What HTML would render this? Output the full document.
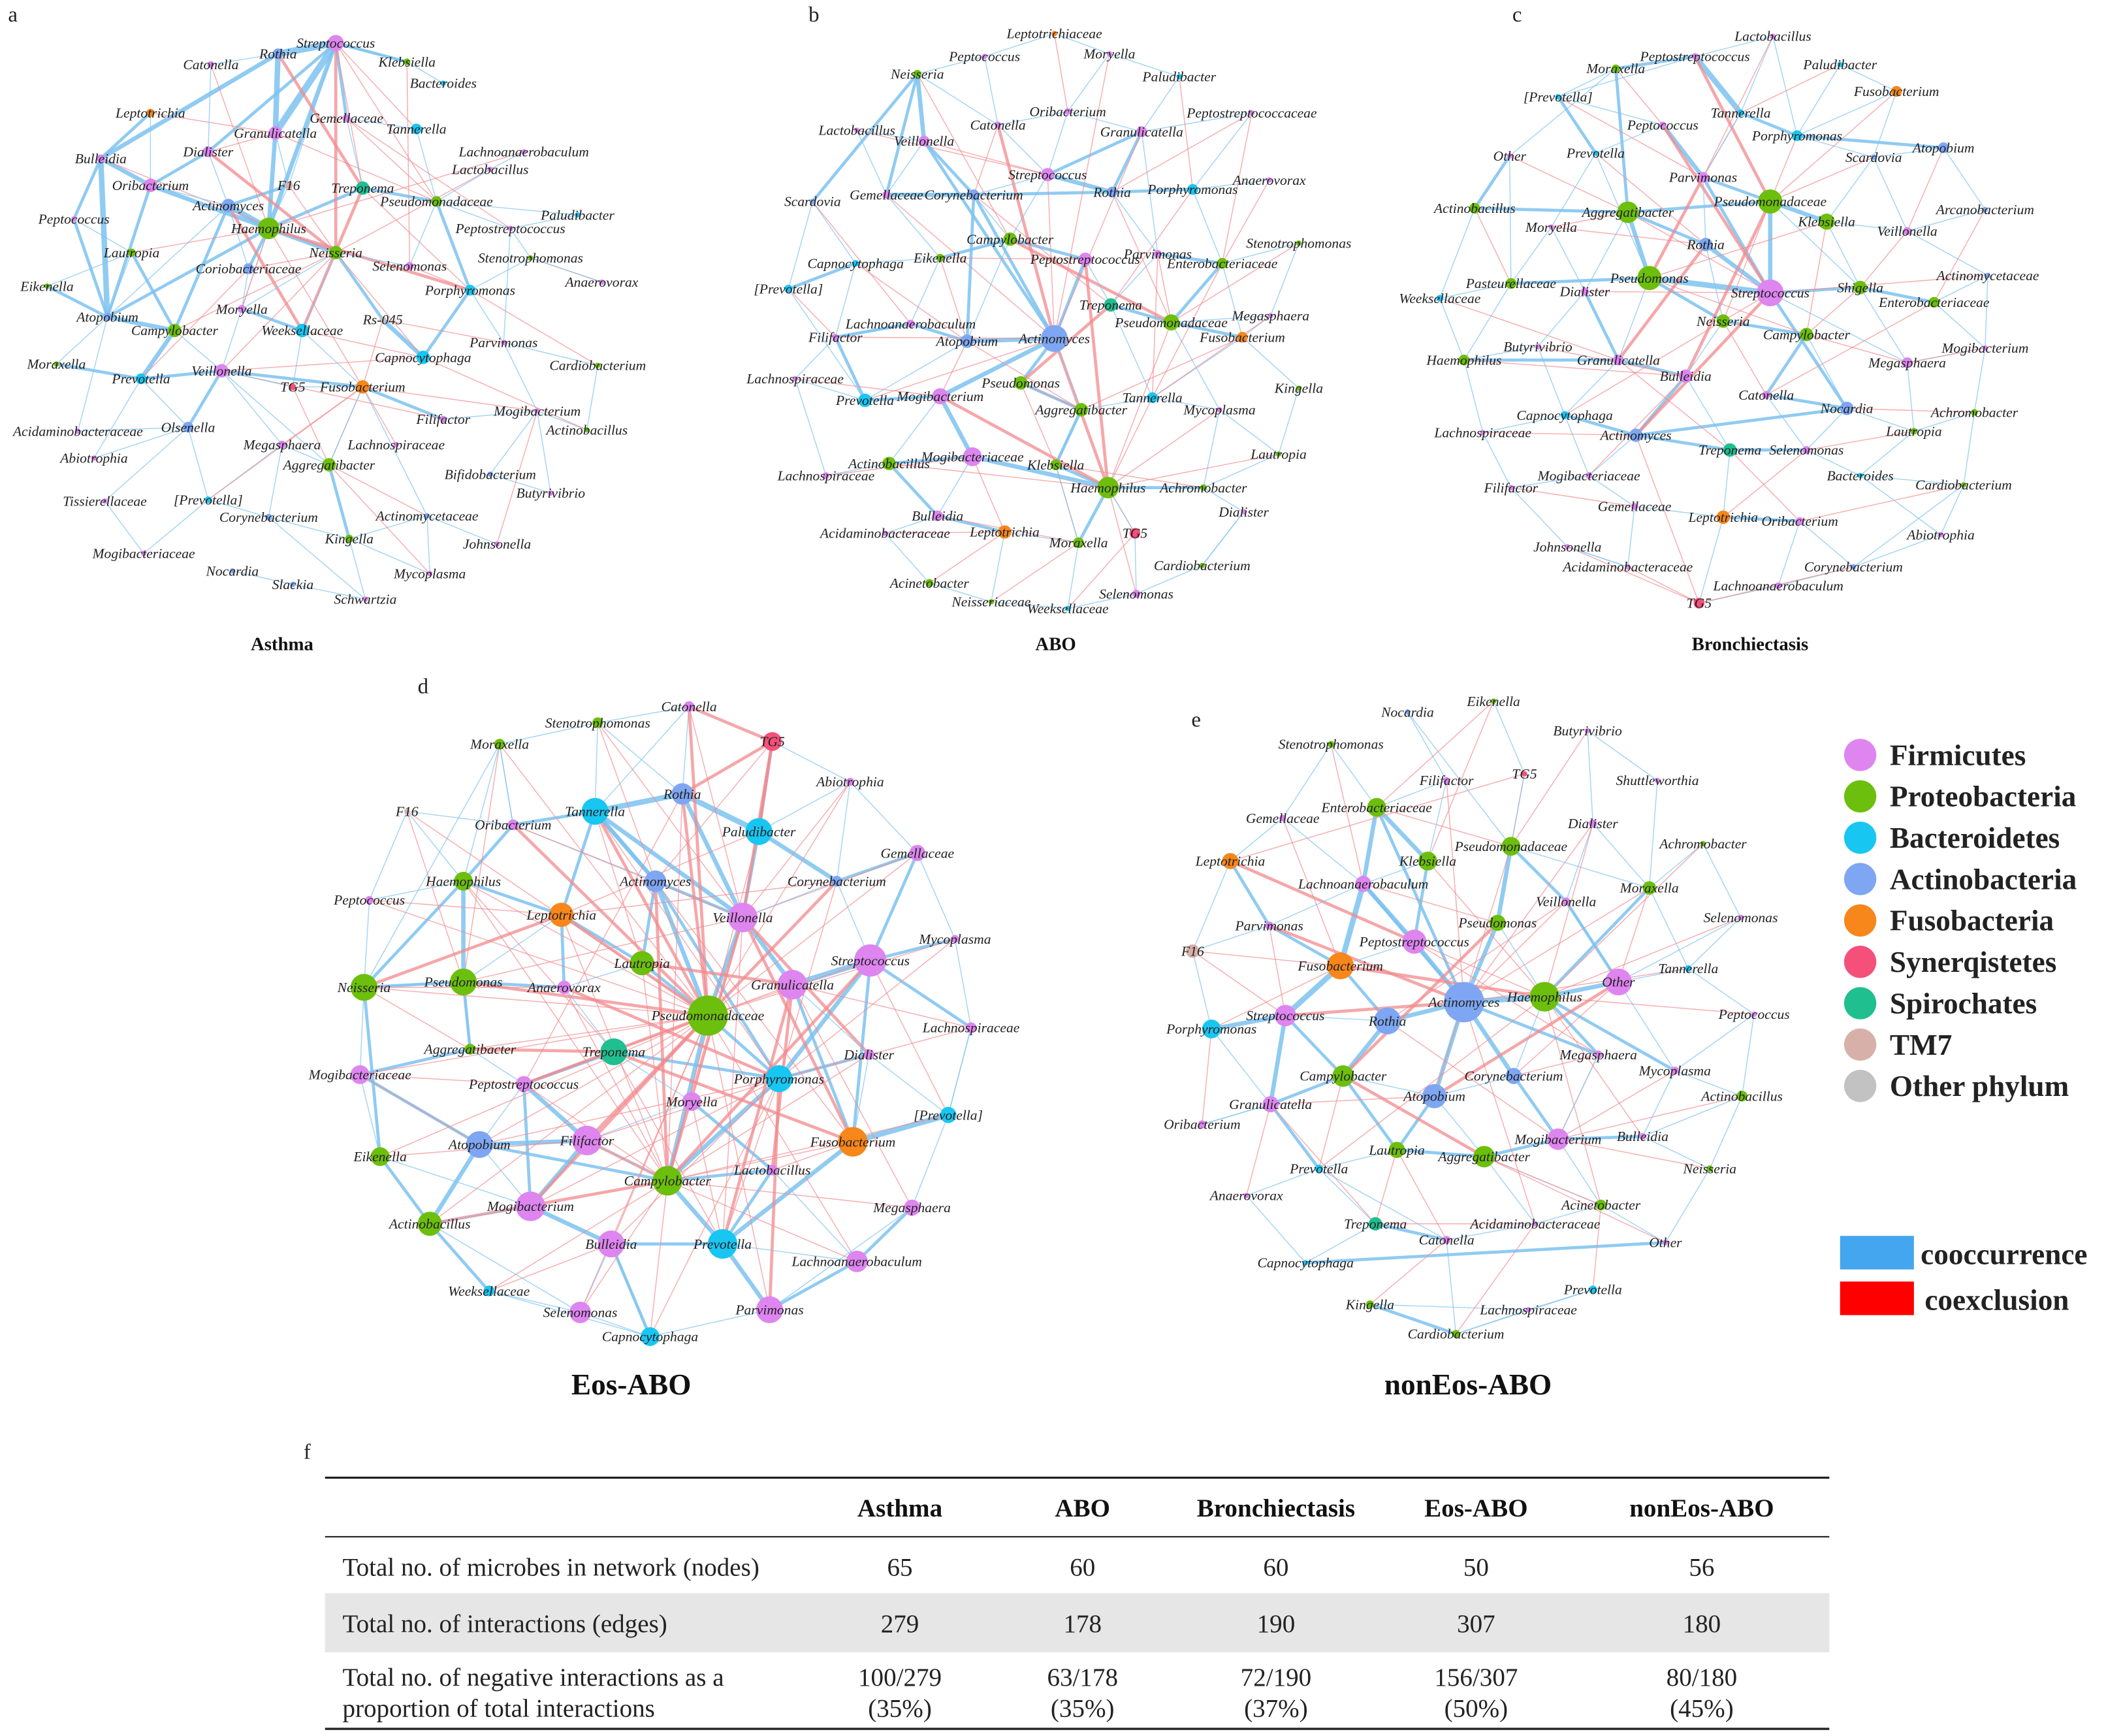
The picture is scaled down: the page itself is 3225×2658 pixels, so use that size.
<!DOCTYPE html>
<html><head><meta charset="utf-8"><title>Microbial co-occurrence networks</title>
<style>
html,body{margin:0;padding:0;background:#fff;}
svg{display:block;}
.lbl{font-family:"Liberation Serif",serif;font-style:italic;font-size:10.5px;fill:#222;}
.ttl{font-family:"Liberation Serif",serif;font-weight:bold;fill:#111;}
.tb{font-family:"Liberation Serif",serif;font-size:19px;fill:#222;}
.tbh{font-family:"Liberation Serif",serif;font-size:19px;font-weight:bold;fill:#111;}
.leg{font-family:"Liberation Serif",serif;font-size:22px;font-weight:bold;fill:#222;}
.pl{font-family:"Liberation Serif",serif;font-size:16px;fill:#222;}
</style></head>
<body>
<svg id="fig" width="3225" height="2658" viewBox="0 0 1568 1292.3" xmlns="http://www.w3.org/2000/svg">
<g id="edges"></g>
<g id="nodes"></g>
<g>
<text class="pl" x="6" y="16">a</text>
<text class="pl" x="602" y="16">b</text>
<text class="pl" x="1126" y="16">c</text>
<text class="pl" x="311" y="516">d</text>
<text class="pl" x="887" y="541">e</text>
<text class="pl" x="226" y="1086">f</text>
</g>
<g>
<text class="ttl" x="210" y="484" font-size="14" text-anchor="middle">Asthma</text>
<text class="ttl" x="786" y="484" font-size="14" text-anchor="middle">ABO</text>
<text class="ttl" x="1303" y="484" font-size="14" text-anchor="middle">Bronchiectasis</text>
<text class="ttl" x="470" y="1038" font-size="22" text-anchor="middle">Eos-ABO</text>
<text class="ttl" x="1093" y="1038" font-size="22" text-anchor="middle">nonEos-ABO</text>
</g>
<g id="legend"></g>
<g>
<rect x="1370" y="920" width="55" height="25" fill="#44a6ee"/>
<text class="leg" x="1430" y="941">cooccurrence</text>
<rect x="1370" y="954" width="55" height="25" fill="#ff0000"/>
<text class="leg" x="1433" y="975">coexclusion</text>
</g>
<g>
<line x1="242" y1="1100" x2="1362" y2="1100" stroke="#222" stroke-width="1.6"/>
<line x1="242" y1="1144" x2="1362" y2="1144" stroke="#222" stroke-width="1"/>
<rect x="242" y="1186" width="1120" height="44" fill="#e6e6e6"/>
<line x1="242" y1="1287" x2="1362" y2="1287" stroke="#222" stroke-width="1.6"/>
<text class="tbh" x="670" y="1129" text-anchor="middle">Asthma</text>
<text class="tbh" x="806" y="1129" text-anchor="middle">ABO</text>
<text class="tbh" x="950" y="1129" text-anchor="middle">Bronchiectasis</text>
<text class="tbh" x="1099" y="1129" text-anchor="middle">Eos-ABO</text>
<text class="tbh" x="1267" y="1129" text-anchor="middle">nonEos-ABO</text>
<text class="tb" x="255" y="1173">Total no. of microbes in network (nodes)</text>
<text class="tb" x="670" y="1173" text-anchor="middle">65</text>
<text class="tb" x="806" y="1173" text-anchor="middle">60</text>
<text class="tb" x="950" y="1173" text-anchor="middle">60</text>
<text class="tb" x="1099" y="1173" text-anchor="middle">50</text>
<text class="tb" x="1267" y="1173" text-anchor="middle">56</text>
<text class="tb" x="255" y="1215">Total no. of interactions (edges)</text>
<text class="tb" x="670" y="1215" text-anchor="middle">279</text>
<text class="tb" x="806" y="1215" text-anchor="middle">178</text>
<text class="tb" x="950" y="1215" text-anchor="middle">190</text>
<text class="tb" x="1099" y="1215" text-anchor="middle">307</text>
<text class="tb" x="1267" y="1215" text-anchor="middle">180</text>
<text class="tb" x="255" y="1255">Total no. of negative interactions as a</text>
<text class="tb" x="255" y="1278">proportion of total interactions</text>
<text class="tb" x="670" y="1255" text-anchor="middle">100/279</text><text class="tb" x="670" y="1278" text-anchor="middle">(35%)</text>
<text class="tb" x="806" y="1255" text-anchor="middle">63/178</text><text class="tb" x="806" y="1278" text-anchor="middle">(35%)</text>
<text class="tb" x="950" y="1255" text-anchor="middle">72/190</text><text class="tb" x="950" y="1278" text-anchor="middle">(37%)</text>
<text class="tb" x="1099" y="1255" text-anchor="middle">156/307</text><text class="tb" x="1099" y="1278" text-anchor="middle">(50%)</text>
<text class="tb" x="1267" y="1255" text-anchor="middle">80/180</text><text class="tb" x="1267" y="1278" text-anchor="middle">(45%)</text>
</g>
</svg>
<script>
const phylumNames = ["Firmicutes","Proteobacteria","Bacteroidetes","Actinobacteria","Fusobacteria","Synerqistetes","Spirochates","TM7","Other phylum"];
const phylumColors = ["#de85f0","#6cbf0c","#18c6f2","#7ea6f2","#f7861b","#f55079","#1fbf90","#d8b0aa","#c2c2c2"];
const firm = "Streptococcus Catonella Gemellaceae Granulicatella Dialister Lachnoanaerobaculum Lactobacillus Bulleidia Oribacterium Peptostreptococcus Peptococcus Selenomonas Moryella Anaerovorax Parvimonas Veillonella Filifactor Mogibacterium Acidaminobacteraceae Lachnospiraceae Megasphaera Abiotrophia Butyrivibrio Tissierellaceae Johnsonella Mogibacteriaceae Mycoplasma Schwartzia Peptostreptococcaceae Shuttleworthia Other".split(" ");
const prot = "Klebsiella Haemophilus Neisseria Stenotrophomonas Lautropia Eikenella Campylobacter Moraxella Cardiobacterium Actinobacillus Aggregatibacter Kingella Pseudomonadaceae Enterobacteriaceae Pseudomonas Achromobacter Acinetobacter Neisseriaceae Pasteurellaceae Shigella".split(" ");
const bact = "Bacteroides Tannerella Paludibacter Porphyromonas Weeksellaceae Capnocytophaga Prevotella [Prevotella]".split(" ");
const actn = "Rothia Actinomyces Coriobacteriaceae Atopobium Olsenella Bifidobacterium Corynebacterium Actinomycetaceae Nocardia Slackia Arcanobacterium Scardovia".split(" ");
const fuso = "Leptotrichia Fusobacterium Leptotrichiaceae".split(" ");

const nodesA = "Streptococcus 250 32 6;Rothia 207 40 4;Catonella 157 48 2.5;Klebsiella 303 46 2.5;Bacteroides 330 62 2;Leptotrichia 112 84 3;Gemellaceae 258 88 3;Granulicatella 205 99 5;Tannerella 310 96 4;Dialister 155 113 4;Lachnoanaerobaculum 390 113 2;Lactobacillus 365 126 2;Bulleidia 75 118 3;Oribacterium 112 138 5;F16 215 138 3;Treponema 270 140 5;Pseudomonadaceae 325 150 4;Actinomyces 170 153 5;Paludibacter 430 160 2;Peptostreptococcus 380 170 2;Peptococcus 55 163 2;Haemophilus 200 170 8;Neisseria 250 188 5;Selenomonas 305 198 3;Stenotrophomonas 395 192 2;Lautropia 98 188 3;Coriobacteriaceae 185 200 4;Porphyromonas 350 216 4;Eikenella 35 213 2;Atopobium 80 236 3;Moryella 180 230 3;Anaerovorax 448 210 2;Campylobacter 130 246 5;Weeksellaceae 225 246 5;Rs-045 285 238 2.5;Capnocytophaga 315 266 5;Parvimonas 375 255 2;Moraxella 42 271 2;Prevotella 105 282 4;Veillonella 165 276 5;TG5 218 288 2.5;Fusobacterium 270 288 5;Cardiobacterium 445 272 2;Filifactor 330 312 2.5;Mogibacterium 400 306 2;Actinobacillus 437 320 2;Acidaminobacteraceae 58 321 2;Olsenella 140 318 4;Lachnospiraceae 295 331 2;Megasphaera 210 331 3;Aggregatibacter 245 346 5;Abiotrophia 70 341 2;Bifidobacterium 365 353 2;Butyrivibrio 410 367 2;Tissierellaceae 78 373 2;[Prevotella] 155 372 2.5;Corynebacterium 200 385 2.5;Actinomycetaceae 318 384 2;Kingella 260 401 3;Johnsonella 370 405 2;Mogibacteriaceae 107 412 2;Nocardia 173 425 2;Mycoplasma 320 427 2;Slackia 218 435 2;Schwartzia 272 446 2";
const nodesB = "Leptotrichiaceae 785 25 2;Peptococcus 733 42 2;Moryella 826 40 2;Neisseria 683 55 3;Paludibacter 878 57 2;Lactobacillus 638 97 2;Veillonella 688 105 4;Catonella 743 93 2.5;Oribacterium 795 83 2.5;Granulicatella 850 98 4;Peptostreptococcaceae 932 84 2;Streptococcus 780 130 5;Anaerovorax 945 134 2;Scardovia 605 150 2;Gemellaceae 660 145 3;Corynebacterium 725 145 4;Rothia 828 143 4;Porphyromonas 888 141 4;Campylobacter 752 178 5;Capnocytophaga 637 196 2.5;Eikenella 700 192 3;Peptostreptococcus 808 193 5;Parvimonas 862 189 3;Enterobacteriaceae 910 196 4;Stenotrophomonas 967 181 2;[Prevotella] 587 215 3;Treponema 827 227 5;Lachnoanaerobaculum 678 241 3;Actinomyces 785 252 10;Pseudomonadaceae 872 240 6;Megasphaera 946 235 2;Filifactor 622 251 2.5;Atopobium 720 254 5;Fusobacterium 925 251 4;Lachnospiraceae 592 282 2;Pseudomonas 760 285 5;Tannerella 858 296 4;Kingella 967 289 2;Prevotella 644 298 5;Mogibacterium 700 295 6;Aggregatibacter 805 305 5;Mycoplasma 908 305 2;Mogibacteriaceae 724 340 7;Lautropia 952 338 2;Actinobacillus 662 345 5;Klebsiella 786 346 4;Lachnospiraceae 615 354 2.5;Haemophilus 825 363 8;Achromobacter 896 363 2.5;Bulleidia 698 384 4;Dialister 926 381 2;Acidaminobacteraceae 659 397 2;Leptotrichia 748 396 5;Moraxella 803 404 4;TG5 845 397 4;Cardiobacterium 895 421 2;Acinetobacter 692 434 3;Neisseriaceae 738 448 2;Weeksellaceae 795 453 2;Selenomonas 846 442 3";
const nodesC = "Lactobacillus 1320 27 2;Peptostreptococcus 1262 42 2.5;Moraxella 1203 51 3;Paludibacter 1370 48 2;Fusobacterium 1412 68 4;[Prevotella] 1160 72 2;Tannerella 1296 84 2.5;Peptococcus 1238 93 2.5;Porphyromonas 1338 101 4;Atopobium 1447 110 4;Other 1124 116 2;Prevotella 1188 114 2;Scardovia 1395 117 2;Parvimonas 1268 132 4;Pseudomonadaceae 1318 150 9;Arcanobacterium 1478 156 2;Actinobacillus 1098 155 4;Aggregatibacter 1212 158 8;Klebsiella 1360 165 6;Moryella 1155 169 2;Veillonella 1420 172 3;Rothia 1270 182 5;Pseudomonas 1228 207 9;Actinomycetaceae 1480 205 2;Pasteurellaceae 1125 211 4;Dialister 1180 217 3;Streptococcus 1318 218 10;Shigella 1385 214 5;Weeksellaceae 1072 222 2.5;Enterobacteriaceae 1440 225 4;Neisseria 1283 239 5;Campylobacter 1345 249 5;Butyrivibrio 1145 258 2;Mogibacterium 1478 259 2;Haemophilus 1090 268 4;Granulicatella 1205 268 4;Megasphaera 1420 270 4;Bulleidia 1255 280 5;Catonella 1315 294 3;Nocardia 1375 304 5;Achromobacter 1470 307 2.5;Capnocytophaga 1165 309 3;Lautropia 1425 321 2.5;Lachnospiraceae 1104 322 2;Actinomyces 1218 324 5;Treponema 1288 335 5;Selenomonas 1345 335 3;Mogibacteriaceae 1183 354 2.5;Bacteroides 1385 354 2;Filifactor 1125 363 2;Cardiobacterium 1462 361 2;Gemellaceae 1217 377 2.5;Leptotrichia 1283 385 5;Oribacterium 1340 388 3;Johnsonella 1167 407 2;Abiotrophia 1445 398 2;Acidaminobacteraceae 1212 422 2;Corynebacterium 1380 422 2;Lachnoanaerobaculum 1324 436 2.5;TG5 1265 449 4";
const nodesD = "Catonella 513 526 4;Stenotrophomonas 445 538 4;TG5 575 552 7;Moraxella 372 554 4;Abiotrophia 633 582 3;Rothia 508 591 8;F16 303 604 2;Tannerella 443 604 10;Paludibacter 565 619 10;Oribacterium 382 614 4;Gemellaceae 683 635 6;Actinomyces 488 656 8;Corynebacterium 623 656 4;Haemophilus 345 656 7;Peptococcus 275 670 3;Leptotrichia 418 681 9;Veillonella 553 683 11;Mycoplasma 711 699 3;Lautropia 478 717 9;Streptococcus 648 715 12;Neisseria 271 735 10;Pseudomonas 345 731 10;Anaerovorax 420 735 5;Granulicatella 590 733 11;Pseudomonadaceae 527 756 15;Lachnospiraceae 723 765 4;Aggregatibacter 350 781 4;Treponema 457 783 10;Dialister 647 785 4;Mogibacteriaceae 268 800 7;Peptostreptococcus 390 807 6;Porphyromonas 580 803 10;Moryella 515 820 7;[Prevotella] 706 830 6;Filifactor 437 849 11;Fusobacterium 635 850 11;Atopobium 357 852 10;Eikenella 283 861 7;Lactobacillus 575 871 4;Campylobacter 497 879 11;Megasphaera 679 899 6;Mogibacterium 395 898 11;Actinobacillus 320 911 9;Bulleidia 455 926 10;Prevotella 538 926 11;Lachnoanaerobaculum 638 939 8;Weeksellaceae 364 961 4;Selenomonas 432 977 8;Parvimonas 573 975 10;Capnocytophaga 484 995 7";
const nodesE = "Nocardia 1048 530 2;Eikenella 1112 522 2;Butyrivibrio 1182 544 2;Stenotrophomonas 991 554 2.5;Shuttleworthia 1234 581 2;Filifactor 1077 581 2.5;TG5 1135 576 2;Gemellaceae 955 609 2.5;Enterobacteriaceae 1025 601 7;Dialister 1186 613 3;Leptotrichia 916 641 6;Klebsiella 1063 641 7;Achromobacter 1268 628 2;Pseudomonadaceae 1125 630 7;Lachnoanaerobaculum 1015 658 6;Veillonella 1166 671 3;Moraxella 1228 661 5;Parvimonas 945 689 3;Pseudomonas 1115 687 6;Selenomonas 1296 683 2;F16 888 708 5;Peptostreptococcus 1053 701 9;Fusobacterium 998 719 10;Other 1205 731 10;Tannerella 1257 721 2.5;Actinomyces 1090 746 15;Haemophilus 1150 742 11;Streptococcus 957 756 8;Rothia 1033 760 10;Peptococcus 1306 755 2;Porphyromonas 902 766 7;Megasphaera 1190 785 3;Mycoplasma 1247 797 3;Campylobacter 1000 801 8;Corynebacterium 1127 801 6;Granulicatella 946 822 6;Atopobium 1068 816 9;Actinobacillus 1297 816 4;Oribacterium 895 837 3;Mogibacterium 1160 848 8;Bulleidia 1223 846 2.5;Lautropia 1040 856 6;Aggregatibacter 1105 861 8;Neisseria 1273 870 2.5;Prevotella 982 870 3;Anaerovorax 928 890 2;Acinetobacter 1192 897 4;Treponema 1024 911 5;Acidaminobacteraceae 1143 911 2;Catonella 1077 923 3;Other 1240 925 2;Capnocytophaga 972 940 2;Prevotella 1186 960 3;Kingella 1020 971 3;Lachnospiraceae 1138 975 2;Cardiobacterium 1084 993 3";

const edgesA = "0-1c5 0-7c5 1-7c4 12-29c4 12-13c3 13-21c3 17-21c4 7-21c3 21-22c3 0-21c3 1-12c3 29-32c3 32-38c3 38-39c2 22-34c2 34-35c3 35-27c2 27-16c2 15-16c2 5-12c2 9-13c2 20-29c2 28-29c2 37-38c2 39-41c2 41-43c2 43-44c1 44-45c1 50-58c2 49-50c1 56-58c1 58-62c1 57-59c1 52-53c1 55-56c1 46-47c1 54-47c1 60-55c1 61-63c1 63-64c1 64-58c1 51-47c1 30-33c2 33-40c1 26-21c2 25-32c2 24-27c1 19-16c1 18-16c1 10-11c1 8-6c1 3-0c2 4-3c1 42-36c1 14-17c2 47-39c2 21-29c2 13-29c2 17-32c2 0-6c2 21-15c2 0-9c2 12-20c2 39-50c1 47-55c1 0-22x2 1-15x2 7-16x1 21-27x2 22-35x1 9-22x2 5-7x1 17-33x2 32-22x1 39-22x1 15-33x2 0-16x1 6-19x1 11-22x1 36-34x1 23-27x1 44-41x1 43-39x1 50-41x1 21-41x1 31-24x1 26-38x1 2-21x1 3-23x1 10-21x1 12-22x1 35-45x1 27-42x1 0-3c1 0-14c1 1-2c1 2-9c1 5-13c1 7-14c1 9-17c1 13-17c1 14-21c1 17-26c1 21-30c1 22-30c1 22-33c1 26-30c1 30-39c1 32-39c1 33-41c1 39-40c1 40-41c1 41-50c1 49-39c1 47-38c1 29-46c1 38-51c1 55-49c1 56-49c1 58-57c1 57-41c1 52-44c1 44-36c1 36-19c1 19-24c1 16-23c1 23-22c1 8-16c1 6-15c1 11-16c1 18-19c1 24-31c1 27-36c1 42-45c1 53-44c1 62-57c1 64-56c1 60-54c1 17-29c1 25-29c1 20-25c1 28-25c1 37-29c1 7-9x1 14-22x1 30-21x1 33-35x1 41-34x1 39-35x1 49-41x1 57-50x1 26-22x1 25-21x1 15-27x1 8-0x1 6-16x1 0-15x1 48-41x1 40-50x1 55-41x1 59-44x1 62-50x1";
const edgesB = "3-6c3 3-13c2 6-15c2 14-15c3 15-16c2 11-16c3 11-9c2 9-16c2 16-17c2 15-28c2 28-32c3 28-39c3 39-42c3 42-47c3 47-45c2 45-40c2 40-35c2 35-28c2 38-39c2 38-31c2 31-27c2 27-32c2 32-15c2 25-13c1 25-19c2 19-20c1 20-18c2 18-21c2 21-28c2 22-23c2 23-29c2 29-33c2 33-36c1 36-41c1 41-48c1 48-47c2 47-53c2 53-52c1 52-49c2 49-44c2 44-42c2 49-51c1 56-57c1 57-58c1 58-59c1 59-54c1 50-55c1 37-43c1 30-29c1 24-23c1 12-17c1 10-9c1 4-9c1 2-8c1 1-7c1 5-6c1 0-2c1 46-34c1 44-46c1 26-29c2 6-28c2 3-14c2 7-8c1 25-38c1 6-11x1 7-28x2 11-28x1 18-29x2 26-35x2 21-47x2 28-47x2 32-40x1 39-47x2 16-29x1 9-28x1 3-18x1 17-26x1 22-36x1 33-40x1 20-32x1 15-26x1 45-53x1 42-52x1 2-28x1 10-23x1 35-45x1 38-28x1 29-47x1 54-47x1 14-28x1 31-28x1 1-3c1 3-7c1 5-14c1 6-14c1 7-11c1 8-11c1 8-9c1 9-22c1 10-17c1 11-15c1 11-18c1 13-19c1 14-20c1 15-18c1 16-22c1 17-23c1 18-32c1 19-31c1 20-27c1 21-26c1 22-26c1 23-33c1 24-30c1 26-36c1 27-31c1 28-40c1 29-41c1 30-33c1 31-34c1 32-38c1 33-37c1 34-38c1 36-40c1 39-44c1 40-45c1 41-43c1 42-49c1 43-48c1 45-53c1 47-54c1 48-50c1 50-55c1 51-56c1 52-57c1 53-58c1 55-59c1 2-4c1 0-1c1 7-15x1 5-11x1 13-27x1 19-32x1 20-21x1 22-29x1 23-36x1 24-29x1 30-36x1 32-39x1 34-39x1 35-40x1 36-47x1 41-47x1 43-47x1 44-47x1 46-42x1 48-45x1 49-53x1 51-52x1 56-52x1 57-53x1 58-54x1 59-47x1 25-31x1 0-8x1 4-17x1 12-23x1 10-16x1";
const edgesC = "1-2c2 1-6c4 6-8c2 7-13c3 13-14c2 14-18c3 14-26c3 17-22c3 22-26c4 26-27c2 27-29c2 21-26c3 21-17c2 10-16c2 16-17c2 24-22c2 24-28c1 34-35c2 35-37c2 37-44c2 44-39c2 39-38c2 38-31c2 31-30c2 30-22c2 44-41c2 43-41c1 47-49c1 44-45c2 45-46c2 46-39c1 52-53c2 53-57c1 57-58c1 58-59c1 52-59c1 56-54c1 51-52c1 48-50c1 55-50c1 40-42c1 36-33c1 9-15c1 9-12c1 12-20c1 20-18c1 23-29c1 3-4c1 0-6c1 5-11c2 11-22c1 19-25c1 25-35c2 32-34c1 13-26c2 8-9c2 4-8c1 2-17c2 26-39c2 14-17c2 1-14x2 7-26x2 13-22x2 14-37x2 17-26x1 22-31x1 21-35x2 26-44x2 30-38x1 25-26x1 18-22x1 14-30x1 27-31x1 19-21x1 6-13x1 34-37x1 44-59x1 52-46x1 35-45x1 41-26x1 5-13x1 2-7x1 36-31x1 29-38x1 47-37x1 0-1c1 0-8c1 1-5c1 2-5c1 2-10c1 3-8c1 4-12c1 5-7c1 6-13c1 7-11c1 8-12c1 10-24c1 11-19c1 12-18c1 13-21c1 14-27c1 15-20c1 16-28c1 17-25c1 18-27c1 19-24c1 20-23c1 21-30c1 22-35c1 23-33c1 24-34c1 25-32c1 26-36c1 27-36c1 28-34c1 29-33c1 30-37c1 31-39c1 32-41c1 33-40c1 34-43c1 35-41c1 36-42c1 37-45c1 38-46c1 39-42c1 40-50c1 41-47c1 42-48c1 43-49c1 44-47c1 45-52c1 46-48c1 47-51c1 48-55c1 49-54c1 50-57c1 51-56c1 53-58c1 54-56c1 57-55c1 3-6x1 8-14x1 9-20x1 10-17x1 12-14x1 15-29x1 16-24x1 18-31x1 19-17x1 20-27x1 23-26x1 28-35x1 32-37x1 33-36x1 39-40x1 42-46x1 43-44x1 45-53x1 49-51x1 50-53x1 54-59x1 56-59x1 57-59x1 0-13x1 4-14x1 11-21x1";
const edgesD = "5-7c4 5-8c4 7-11c3 8-12c3 11-24c3 7-16c3 5-16c3 16-23c3 23-19c4 19-31c3 31-39c3 39-44c3 44-48c3 44-43c2 43-41c3 41-34c3 34-36c3 36-42c3 36-29c2 29-26c2 26-21c2 21-13c3 13-9c2 9-7c2 13-20c2 20-37c2 37-42c2 42-46c2 46-49c1 49-43c2 47-43c1 45-48c2 40-45c2 35-33c4 35-44c3 33-28c1 28-31c2 31-27c2 27-30c2 30-34c3 32-38c2 38-39c2 24-39c3 24-16c3 24-18c2 18-11c2 18-15c2 15-13c2 22-21c2 22-15c2 12-10c2 10-19c2 17-19c2 25-19c2 33-25c1 3-13c1 1-7c1 0-5c1 2-8c2 4-8c1 6-13c1 14-13c1 20-29c1 30-41c2 36-39c2 23-35c2 19-35c2 8-16c2 11-7c2 11-16c2 44-38c2 24-31c2 11-31c2 7-15c2 21-20c2 3-9c1 2-0x2 2-5x2 2-8x2 2-16x2 2-11x1 0-24x2 5-24x2 7-24x2 15-24x2 11-39x2 16-39x2 13-24x1 21-24x2 18-23x2 22-31x2 27-35x2 30-24x2 34-24x2 36-24x1 41-24x2 43-24x1 20-15x2 20-22x1 26-27x2 29-30x1 37-34x1 42-39x2 46-43x1 47-39x1 49-31x1 48-31x2 45-24x1 44-23x2 40-23x1 35-16x2 33-19x1 28-16x2 25-23x1 17-24x1 12-24x2 10-16x1 4-24x1 3-21x1 1-11x1 9-24x2 6-21x1 14-15x1 19-39x2 31-44x1 32-16x1 38-23x2 39-34x2 7-18x1 8-15x1 5-30x1 12-15x1 16-21x1 23-30x1 13-27x1 20-26x1 29-36x1 42-41x1 0-16x1 0-1c1 0-7c1 1-3c1 3-9c1 4-10c1 4-12c1 6-9c1 6-14c1 9-11c1 10-17c1 12-16c1 12-19c1 14-20c1 15-21c1 17-25c1 18-22c1 20-21c1 21-26c1 22-27c1 23-28c1 25-33c1 26-30c1 27-32c1 28-35c1 29-37c1 30-36c1 32-34c1 33-40c1 34-39c1 36-41c1 37-41c1 38-45c1 40-48c1 41-42c1 42-47c1 43-49c1 45-44c1 46-47c1 47-49c1 48-49c1 3-20c1 1-5c1 2-4c1 1-16x1 3-24x1 4-16x1 6-24x1 9-16x1 10-24x1 12-31x1 14-24x1 17-31x1 18-39x1 19-24x1 20-24x1 22-39x1 25-31x1 26-24x1 27-44x1 28-39x1 29-24x1 30-39x1 32-44x1 33-39x1 34-31x1 35-39x1 36-31x1 37-24x1 38-35x1 40-39x1 41-31x1 42-24x1 43-31x1 45-39x1 46-39x1 47-24x1 48-24x1 49-39x1 11-35x1 7-31x1 5-39x1 8-39x1 13-39x1 15-39x1 16-44x1";
const edgesE = "8-11c3 8-14c3 14-22c4 22-27c4 27-30c3 27-35c3 35-33c2 33-28c3 28-25c3 25-26c4 26-23c3 23-15c2 15-13c2 13-18c3 18-25c3 21-25c3 21-14c3 11-21c2 10-17c2 17-22c2 20-30c1 25-34c3 34-39c2 39-40c2 40-43c1 36-25c3 36-41c2 41-42c2 42-39c2 31-26c2 32-26c2 32-37c1 44-35c2 44-47c1 47-49c2 49-55c1 53-55c2 51-50c2 46-48c1 48-42c1 52-54c1 3-8c1 7-14c1 9-15c1 16-26c2 12-16c1 19-23c1 24-23c1 29-32c1 0-13c1 5-8c1 2-9c1 4-16c1 27-33c2 22-28c2 14-25c2 8-25c2 33-41c2 38-35c1 45-44c1 25-31c2 1-11x1 6-13x1 6-10x1 10-21x2 17-25x2 22-26x2 27-25x2 20-22x1 13-36x1 18-33x2 23-36x2 15-28x1 11-26x1 14-18x1 21-31x1 26-44x1 33-42x2 34-23x1 39-31x1 35-47x1 41-49x1 30-22x1 17-27x1 26-46x1 25-48x1 24-25x1 9-25x1 16-25x1 8-13x1 28-39x1 0-5c1 1-6c1 2-4c1 3-7c1 5-11c1 6-13c1 7-10c1 9-16c1 10-20c1 11-14c1 12-19c1 13-16c1 14-17c1 15-23c1 16-24c1 17-20c1 18-26c1 19-24c1 21-22c1 23-32c1 24-29c1 26-34c1 27-28c1 29-37c1 30-35c1 31-39c1 32-40c1 33-36c1 34-36c1 35-38c1 36-42c1 37-43c1 39-46c1 40-37c1 41-44c1 42-46c1 43-50c1 44-49c1 45-51c1 46-50c1 47-51c1 48-49c1 52-55c1 53-54c1 54-55c1 1-8x1 2-13x1 3-14x1 5-25x1 7-22x1 9-26x1 12-26x1 15-25x1 16-23x1 19-26x1 20-27x1 21-26x1 29-26x1 31-34x1 32-39x1 33-44x1 35-36x1 37-39x1 38-30x1 40-26x1 41-47x1 42-46x1 43-39x1 45-35x1 47-48x1 50-42x1 52-46x1 53-49x1 55-48x1";

const networks = [["asthma",nodesA,edgesA],["abo",nodesB,edgesB],["bronchiectasis",nodesC,edgesC],["eos-abo",nodesD,edgesD],["noneos-abo",nodesE,edgesE]];

function phylumOf(name){
  if(name==="TG5") return 5;
  if(name==="Treponema") return 6;
  if(name==="F16") return 7;
  if(name==="Rs-045") return 8;
  if(firm.includes(name)) return 0;
  if(prot.includes(name)) return 1;
  if(bact.includes(name)) return 2;
  if(actn.includes(name)) return 3;
  if(fuso.includes(name)) return 4;
  return 8;
}
const NS="http://www.w3.org/2000/svg";
const eg=document.getElementById("edges"), ng=document.getElementById("nodes");
networks.forEach(function(net){
  const key=net[0];
  const nodes=net[1].split(";").map(function(s){const p=s.split(" ");return {n:p[0],x:+p[1],y:+p[2],r:+p[3]};});
  net[2].split(" ").forEach(function(e){
    const m=e.match(/^(\d+)-(\d+)([cx])(\d)$/); if(!m) return;
    const a=nodes[+m[1]], b=nodes[+m[2]]; if(!a||!b||a===b) return;
    const w=+m[4];
    const l=document.createElementNS(NS,"line");
    l.setAttribute("x1",a.x);l.setAttribute("y1",a.y);l.setAttribute("x2",b.x);l.setAttribute("y2",b.y);
    l.setAttribute("stroke",m[3]==="c"?"#7cc2f0":"#f28a8e");
    l.setAttribute("stroke-width",w===1?0.7:0.5+w*0.9);
    l.setAttribute("stroke-opacity",w===1?"0.7":(m[3]==="c"?"0.85":"0.75"));
    
    
    eg.appendChild(l);
  });
  nodes.forEach(function(nd){
    const c=document.createElementNS(NS,"circle");
    c.setAttribute("cx",nd.x);c.setAttribute("cy",nd.y);c.setAttribute("r",nd.r);
    c.setAttribute("fill",phylumColors[phylumOf(nd.n)]);
    
    
    ng.appendChild(c);
    const t=document.createElementNS(NS,"text");
    t.setAttribute("x",nd.x);t.setAttribute("y",nd.y+3.5);t.setAttribute("text-anchor","middle");
    t.setAttribute("class","lbl");t.textContent=nd.n;
    
    
    ng.appendChild(t);
  });
});
const lg=document.getElementById("legend");
phylumNames.forEach(function(p,i){
  const y=562+i*30.8;
  const c=document.createElementNS(NS,"circle");
  c.setAttribute("cx",1385);c.setAttribute("cy",y);c.setAttribute("r",12);c.setAttribute("fill",phylumColors[i]);
  
  
  lg.appendChild(c);
  const t=document.createElementNS(NS,"text");
  t.setAttribute("x",1407);t.setAttribute("y",y+7.5);t.setAttribute("class","leg");t.textContent=p;
  
  
  lg.appendChild(t);
});
</script>
</body></html>
